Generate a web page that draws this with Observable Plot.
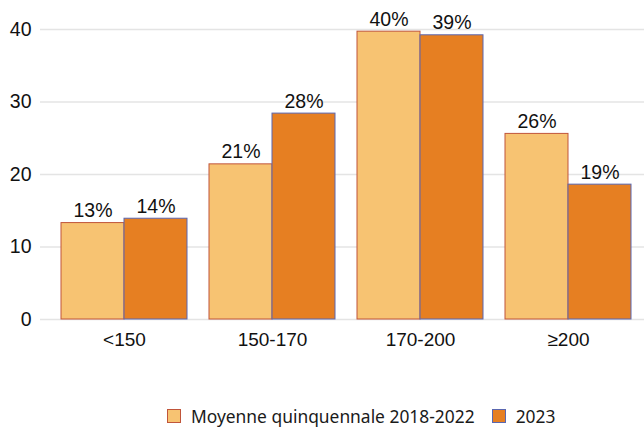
<!DOCTYPE html>
<html>
<head>
<meta charset="utf-8">
<script src="https://cdn.jsdelivr.net/npm/d3@7"></script>
<script src="https://cdn.jsdelivr.net/npm/@observablehq/plot@0.6"></script>
<style>
  html, body { margin: 0; padding: 0; background: #fff; }
  #wrap { position: relative; width: 644px; height: 432px; }
  #legend { position: absolute; left: 167px; top: 404px; display: flex; align-items: center;
    font-family: "Noto Sans", "Open Sans", sans-serif; font-size: 17.4px; color: #1a1a1a; }
  .sw { width: 14px; height: 14px; box-sizing: border-box; margin-right: 10px; }
  .item { display: flex; align-items: center; margin-right: 17px; }
</style>
</head>
<body>
<div id="wrap"><div id="chart"></div><div id="legend"></div></div>
<script>
const categories = ["<150", "150-170", "170-200", "≥200"];
const seriesNames = ["Moyenne quinquennale 2018-2022", "2023"];
const avgValues = [13.3, 21.4, 39.7, 25.6];
const values2023 = [13.9, 28.4, 39.2, 18.6];
const avgLabels = ["13%", "21%", "40%", "26%"];
const labels2023 = ["14%", "28%", "39%", "19%"];
const yTicks = [0, 10, 20, 30, 40];

const fills = ["#F7C372", "#E67F22"];
const strokes = ["#C0553A", "#5A67B0"];

const avgData = categories.map((c, i) => ({cat: c, v: avgValues[i], label: avgLabels[i]}));
const data2023 = categories.map((c, i) => ({cat: c, v: values2023[i], label: labels2023[i]}));

const chart = Plot.plot({
  width: 644,
  height: 390,
  marginLeft: 40,
  marginRight: 0,
  marginTop: 29,
  marginBottom: 71,
  style: {fontFamily: "'Liberation Sans', Arial, sans-serif", fontSize: "19px", color: "#111", background: "#fff"},
  x: {domain: categories, paddingInner: 0.15, paddingOuter: 0.115, align: 0.614, axis: null},
  y: {domain: [0, 40], axis: null},
  marks: [
    Plot.ruleY(yTicks, {stroke: "#e4e4e4", strokeWidth: 1.5}),
    Plot.axisY(yTicks, {tickSize: 0, tickPadding: 9, fontSize: 19.5, label: null}),
    Plot.axisX({tickSize: 0, tickPadding: 13, fontSize: 19, label: null}),
    Plot.barY(avgData, {x: "cat", y: "v", fill: fills[0], stroke: strokes[0], strokeWidth: 1, insetRight: 63}),
    Plot.barY(data2023, {x: "cat", y: "v", fill: fills[1], stroke: strokes[1], strokeWidth: 1, insetLeft: 63}),
    Plot.text(avgData, {x: "cat", y: "v", text: "label", dx: -31.5, dy: -6, lineAnchor: "bottom", fontSize: 19.5, fill: "#111"}),
    Plot.text(data2023, {x: "cat", y: "v", text: "label", dx: 31.5, dy: -6, lineAnchor: "bottom", fontSize: 19.5, fill: "#111"})
  ]
});
document.getElementById("chart").appendChild(chart);

const legend = document.getElementById("legend");
seriesNames.forEach((name, i) => {
  const item = document.createElement("div");
  item.className = "item";
  const sw = document.createElement("div");
  sw.className = "sw";
  sw.style.background = fills[i];
  sw.style.border = "1px solid " + strokes[i];
  const t = document.createElement("span");
  t.textContent = name;
  item.appendChild(sw);
  item.appendChild(t);
  legend.appendChild(item);
});
</script>
</body>
</html>
